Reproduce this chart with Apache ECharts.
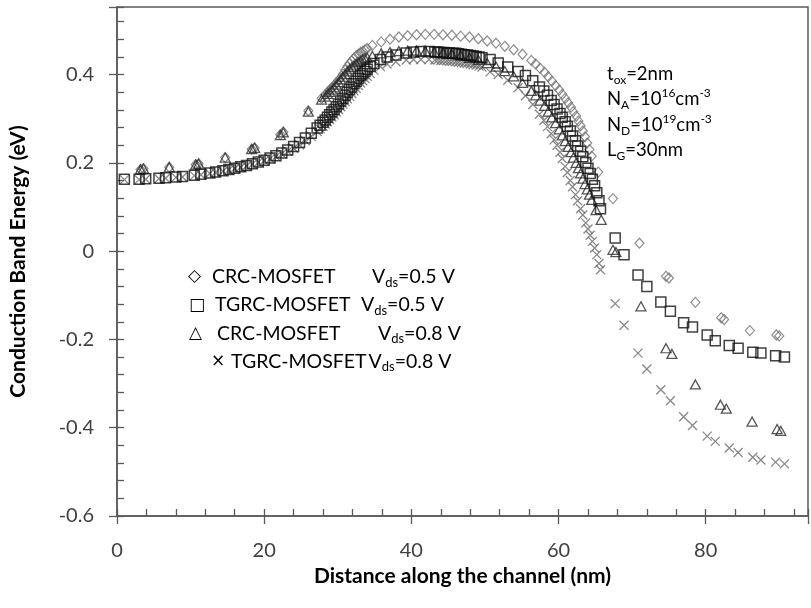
<!DOCTYPE html>
<html><head><meta charset="utf-8">
<script src="https://cdn.jsdelivr.net/npm/echarts@6/dist/echarts.min.js"></script>
<style>html,body{margin:0;padding:0;background:#fff}#c{width:811px;height:608px}</style>
</head><body><div id="c"></div>
<script>
// ---- data (nm, eV) ----
const xMajorTicks = [0, 20, 40, 60, 80];
const yMajorTicks = [-0.6, -0.4, -0.2, 0, 0.2, 0.4];

const crc05X = [3.2,3.6,7.1,10.7,11.1,14.7,18.3,18.7,22.2,22.6,26.0,27.8,
  28.3,28.6,28.9,29.2,29.5,29.8,30.1,30.4,30.7,31.0,31.3,31.6,31.9,32.2,32.5,32.8,33.1,33.4,33.7,34.0,
  34.7,35.9,37.1,38.3,39.5,40.7,41.9,43.1,44.3,45.5,46.7,47.9,49.1,50.3,51.5,52.7,53.9,55.1,56.3,56.9,
  57.5,58.1,58.6,59.1,59.6,60.1,60.5,60.9,61.3,61.7,62.0,62.4,62.7,63.0,63.3,63.6,63.9,64.2,64.5,
  65.4,67.4,71.0,74.6,75.0,78.6,82.1,82.5,86.0,89.6,90.0];
const crc05Y = [0.185,0.187,0.190,0.196,0.198,0.212,0.231,0.234,0.264,0.270,0.318,0.346,
  0.354,0.360,0.365,0.370,0.375,0.381,0.387,0.393,0.401,0.410,0.418,0.425,0.431,0.437,0.442,0.446,0.450,0.453,0.456,0.459,
  0.466,0.474,0.480,0.485,0.488,0.490,0.491,0.491,0.490,0.489,0.487,0.485,0.481,0.476,0.471,0.464,0.456,0.446,0.432,0.424,
  0.414,0.405,0.395,0.385,0.375,0.365,0.355,0.346,0.336,0.326,0.316,0.306,0.295,0.284,0.272,0.259,0.245,0.230,0.215,
  0.179,0.119,0.018,-0.057,-0.061,-0.116,-0.151,-0.155,-0.180,-0.190,-0.192];

const tgrc05X = [1.0,3.0,3.9,5.7,6.6,8.0,8.9,10.5,11.4,12.6,13.4,14.4,15.2,16.0,16.8,17.6,18.4,19.2,20.0,
  20.8,21.6,22.4,23.2,24.0,24.8,25.6,26.4,
  27.2,27.6,28.0,28.3,28.6,28.9,29.2,29.5,29.8,30.1,30.4,30.7,31.0,31.3,31.6,31.9,32.2,32.5,32.8,33.1,
  33.4,33.7,34.0,34.4,34.9,35.8,36.7,37.9,39.3,40.3,41.3,42.4,
  43.2,43.6,44.0,44.4,44.8,45.2,45.6,46.0,46.4,46.8,47.2,47.6,48.0,48.4,48.8,49.2,49.6,
  50.7,51.8,53.1,54.5,55.5,56.5,57.4,58.0,58.5,59.0,59.4,59.8,60.2,60.5,60.9,61.2,61.6,61.9,62.3,62.6,
  63.0,63.3,63.7,64.0,64.3,64.6,64.9,65.2,65.5,65.7,
  67.7,68.9,70.8,72.0,73.9,75.2,77.0,78.2,80.2,81.3,83.2,84.4,86.4,87.5,89.5,90.7];
const tgrc05Y = [0.163,0.163,0.164,0.165,0.166,0.168,0.169,0.172,0.174,0.177,0.179,0.182,0.185,0.188,0.191,0.194,0.198,0.202,0.206,
  0.211,0.216,0.222,0.229,0.237,0.246,0.256,0.267,
  0.279,0.285,0.292,0.297,0.303,0.309,0.315,0.321,0.327,0.333,0.340,0.346,0.353,0.360,0.366,0.372,0.379,0.385,0.391,0.397,
  0.402,0.407,0.412,0.418,0.425,0.434,0.440,0.444,0.449,0.451,0.452,0.452,
  0.451,0.451,0.450,0.450,0.449,0.449,0.448,0.448,0.447,0.446,0.445,0.444,0.443,0.442,0.441,0.440,0.438,
  0.434,0.426,0.417,0.407,0.398,0.386,0.372,0.363,0.353,0.341,0.332,0.322,0.312,0.303,0.293,0.283,0.272,0.261,0.250,0.238,
  0.226,0.214,0.201,0.188,0.176,0.163,0.148,0.132,0.114,0.096,
  0.030,-0.008,-0.054,-0.080,-0.115,-0.136,-0.162,-0.172,-0.190,-0.203,-0.214,-0.220,-0.229,-0.231,-0.237,-0.240];

const crc08X = [3.2,3.6,7.1,10.7,11.1,14.7,18.3,18.7,22.2,22.6,26.0,27.8,
  28.3,28.6,28.9,29.2,29.5,29.8,30.1,30.4,30.7,31.0,31.3,31.6,31.9,32.2,32.5,32.8,33.1,33.4,33.7,34.0,
  34.7,35.9,37.1,38.3,39.5,40.7,41.9,43.1,44.3,45.5,46.7,47.9,49.1,50.3,51.5,52.7,53.9,55.1,56.3,
  56.9,57.5,58.1,58.6,59.1,59.6,60.1,60.5,60.9,61.3,61.7,62.0,62.4,62.7,63.0,63.3,63.6,63.9,64.2,64.5,65.1,65.8,
  67.4,67.8,71.2,74.6,75.4,78.6,82.0,82.8,86.3,89.7,90.2];
const crc08Y = [0.185,0.187,0.190,0.196,0.198,0.212,0.231,0.234,0.263,0.269,0.316,0.343,
  0.350,0.356,0.361,0.366,0.371,0.377,0.383,0.389,0.395,0.401,0.407,0.412,0.417,0.421,0.425,0.428,0.431,0.434,0.436,0.438,
  0.442,0.448,0.451,0.453,0.454,0.454,0.453,0.451,0.449,0.446,0.443,0.438,0.433,0.426,0.418,0.408,0.396,0.381,0.363,
  0.353,0.341,0.329,0.316,0.303,0.290,0.276,0.262,0.249,0.236,0.224,0.212,0.200,0.188,0.176,0.164,0.152,0.140,0.128,0.116,0.093,0.071,
  0.003,-0.002,-0.125,-0.220,-0.233,-0.302,-0.348,-0.357,-0.386,-0.403,-0.407];

const tgrc08X = tgrc05X.slice();
const tgrc08Y = [0.162,0.162,0.163,0.164,0.165,0.167,0.168,0.171,0.173,0.176,0.178,0.181,0.184,0.187,0.190,0.193,0.197,0.201,0.205,
  0.209,0.214,0.220,0.226,0.233,0.241,0.250,0.260,
  0.271,0.277,0.283,0.288,0.293,0.298,0.304,0.309,0.315,0.321,0.327,0.333,0.339,0.345,0.351,0.357,0.363,0.369,0.375,0.381,
  0.386,0.391,0.396,0.402,0.410,0.418,0.424,0.429,0.433,0.434,0.434,0.434,
  0.433,0.433,0.432,0.432,0.431,0.430,0.430,0.429,0.428,0.427,0.426,0.425,0.424,0.422,0.421,0.419,0.417,
  0.406,0.400,0.387,0.370,0.352,0.332,0.310,0.296,0.282,0.266,0.252,0.240,0.224,0.210,0.192,0.178,0.160,0.146,0.128,0.114,
  0.096,0.082,0.064,0.050,0.036,0.022,0.007,-0.008,-0.028,-0.042,
  -0.119,-0.168,-0.231,-0.267,-0.314,-0.339,-0.375,-0.395,-0.419,-0.431,-0.446,-0.456,-0.467,-0.473,-0.478,-0.482];

const legendNames = ['CRC-MOSFET', 'TGRC-MOSFET', 'CRC-MOSFET', 'TGRC-MOSFET'];
const legendVds = ['0.5', '0.5', '0.8', '0.8'];

// ---- chart ----
function pairs(xs, ys) { return xs.map((x, i) => [x, ys[i]]); }
const FONT = 'Lato';
const AX = '#595959';
const X_MAX = 93.9, Y_MIN = -0.6, Y_MAX = 0.553;
const near = (arr, v) => arr.find(t => Math.abs(t - v) < 1e-6);
const xFmt = v => { const t = near(xMajorTicks, v); return t === undefined ? '' : String(t); };
const yFmt = v => { const t = near(yMajorTicks, v); return t === undefined ? '' : String(t); };

const chart = echarts.init(document.getElementById('c'));
const baseX = { type: 'value', min: 0, max: X_MAX, position: 'bottom', splitLine: { show: false } };
const baseY = { type: 'value', min: Y_MIN, max: Y_MAX, position: 'left', splitLine: { show: false } };
const tickStyle = { color: AX, width: 1.3 };
const lineOff = { show: false, onZero: false };

const measure = (() => {
  const ctx = document.createElement('canvas').getContext('2d');
  return (txt, font) => { ctx.font = font; return ctx.measureText(txt).width; };
})();

chart.setOption({
  animation: false,
  backgroundColor: '#fff',
  grid: { left: 116, top: 7, right: -2, bottom: 92, show: true, borderColor: AX, borderWidth: 1.5, backgroundColor: 'transparent' },
  xAxis: [
    Object.assign({}, baseX, {
      interval: 20,
      axisLine: { show: true, onZero: false, lineStyle: { color: AX, width: 1.5 } },
      axisTick: { show: true, inside: false, length: 8, lineStyle: tickStyle },
      axisLabel: { formatter: xFmt, color: '#404040', fontFamily: FONT, fontSize: 20, margin: 25 },
      name: 'Distance along the channel (nm)', nameLocation: 'middle', nameGap: 50,
      nameTextStyle: { fontFamily: FONT, fontWeight: 'bold', fontSize: 21, color: '#000' }
    }),
    Object.assign({}, baseX, {
      interval: 4,
      axisLine: lineOff,
      axisTick: { show: true, inside: true, length: 7, lineStyle: tickStyle },
      axisLabel: { show: false }
    })
  ],
  yAxis: [
    Object.assign({}, baseY, {
      interval: 0.2,
      axisLine: { show: true, onZero: false, lineStyle: { color: AX, width: 1.5 } },
      axisTick: { show: true, inside: false, length: 8, lineStyle: tickStyle },
      axisLabel: { formatter: yFmt, color: '#404040', fontFamily: FONT, fontSize: 20, margin: 23 },
      name: 'Conduction Band Energy (eV)', nameLocation: 'middle', nameGap: 88,
      nameTextStyle: { fontFamily: FONT, fontWeight: 'bold', fontSize: 21, color: '#000' }
    }),
    Object.assign({}, baseY, {
      interval: 0.04,
      axisLine: lineOff,
      axisTick: { show: true, inside: true, length: 7, lineStyle: tickStyle },
      axisLabel: { show: false }
    })
  ],
  series: [
    { name: 'TGRC-MOSFET Vds=0.8 V', type: 'scatter', silent: true, data: pairs(tgrc08X, tgrc08Y),
      symbol: 'path://M0,0L10,10M10,0L0,10', symbolSize: 9,
      itemStyle: { color: 'none', borderColor: '#6a6a6a', borderWidth: 1.3 } },
    { name: 'CRC-MOSFET Vds=0.5 V', type: 'scatter', silent: true, data: pairs(crc05X, crc05Y),
      symbol: 'diamond', symbolSize: [9, 10],
      itemStyle: { color: 'transparent', borderColor: '#707070', borderWidth: 1.2 } },
    { name: 'CRC-MOSFET Vds=0.8 V', type: 'scatter', silent: true, data: pairs(crc08X, crc08Y),
      symbol: 'triangle', symbolSize: [10, 9],
      itemStyle: { color: 'transparent', borderColor: '#2a2a2a', borderWidth: 1.3 } },
    { name: 'TGRC-MOSFET Vds=0.5 V', type: 'scatter', silent: true, data: pairs(tgrc05X, tgrc05Y),
      symbol: 'rect', symbolSize: [10, 10],
      itemStyle: { color: 'transparent', borderColor: '#111', borderWidth: 1.5 } }
  ],
  graphic: (function () {
    const f = (s, w) => (w || 'normal') + ' ' + s + 'px ' + FONT;
    const subRich = {
      m: { font: f(19.5), lineHeight: 24, verticalAlign: 'middle', fill: '#000' },
      s: { font: f(13), lineHeight: 10, verticalAlign: 'bottom', fill: '#000' }
    };
    const annRich = {
      m: { font: f(18.5), lineHeight: 24, verticalAlign: 'middle', fill: '#000' },
      s: { font: f(12), lineHeight: 10, verticalAlign: 'bottom', fill: '#000' },
      p: { font: f(12), lineHeight: 10, verticalAlign: 'top', fill: '#000' }
    };
    const els = [];
    const glyphs = ['\u25C7', '\u25A1', '\u25B3', '\u00D7'];
    const gxs = [188, 189, 189, 211];
    const nxs = [212, 215, 217, 231];
    const vxs = [372, 361, 378, 352];
    const nameFont = f(19.5);
    legendNames.forEach((nm, i) => {
      const y = 277 + i * 28.2;
      const vx = Math.max(vxs[i], nxs[i] + measure(nm, nameFont) + 2);
      els.push({ type: 'text', silent: true, style: { x: gxs[i], y: y, text: glyphs[i], font: 'normal 17px "DejaVu Sans"', fill: '#000', verticalAlign: 'middle' } });
      els.push({ type: 'text', silent: true, style: { x: nxs[i], y: y, text: nm, font: nameFont, fill: '#000', verticalAlign: 'middle' } });
      els.push({ type: 'text', silent: true, style: { x: vx, y: y, text: '{m|V}{s|ds}{m|=' + legendVds[i] + ' V}', rich: subRich, verticalAlign: 'middle' } });
    });
    const ann = [
      '{m|t}{s|ox}{m|=2nm}',
      '{m|N}{s|A}{m|=10}{p|16}{m|cm}{p|-3}',
      '{m|N}{s|D}{m|=10}{p|19}{m|cm}{p|-3}',
      '{m|L}{s|G}{m|=30nm}'
    ];
    ann.forEach((t, i) => {
      els.push({ type: 'text', silent: true, style: { x: 607, y: 74 + i * 25.5, text: t, rich: annRich, verticalAlign: 'middle' } });
    });
    return els;
  })()
});
</script>
</body></html>
